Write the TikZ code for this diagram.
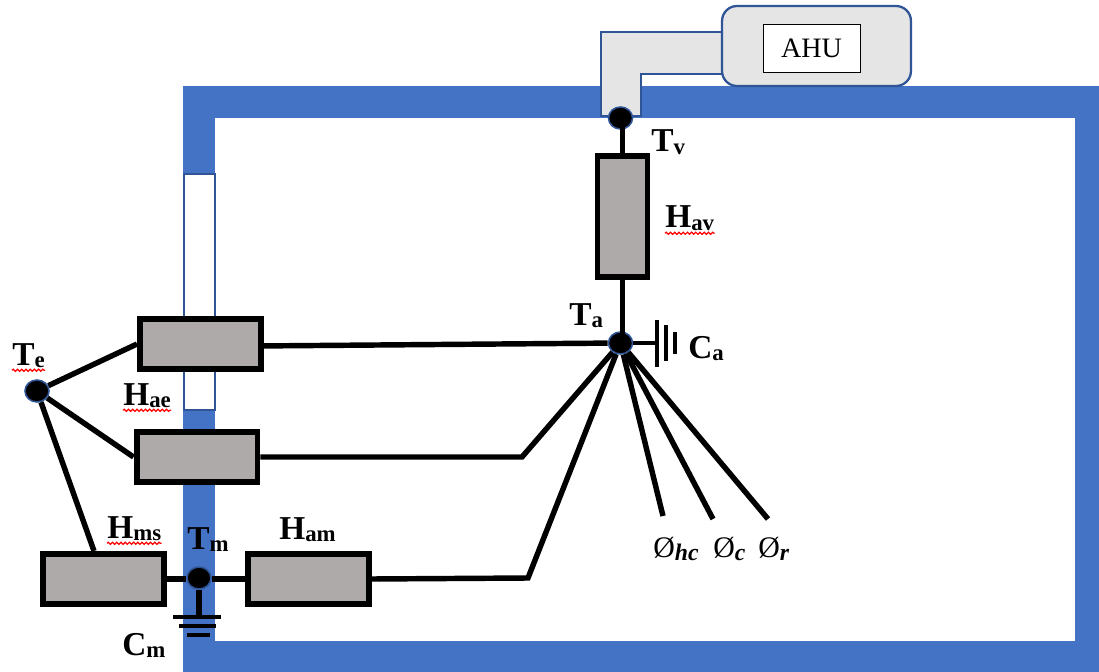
\documentclass[tikz,border=0pt]{standalone}
\usepackage{fontspec}
\setmainfont{Liberation Serif}
\usetikzlibrary{shapes.geometric,decorations.pathmorphing}

\definecolor{wallblue}{HTML}{4472C4}
\definecolor{edgeblue}{HTML}{2F5597}
\definecolor{ductgray}{HTML}{E5E5E5}
\definecolor{resgray}{HTML}{AEAAAA}

% Label with a bold letter and a smaller bold subscript
\newcommand{\lbl}[2]{{\bfseries\fontsize{19}{19}\selectfont #1\raisebox{-1.5pt}{\fontsize{13}{13}\selectfont #2}}}
% Label with the heat gain symbol
\newcommand{\gainlbl}[1]{{\fontsize{17}{17}\selectfont Ø\raisebox{-2pt}{\fontsize{13.5}{13.5}\selectfont\bfseries\itshape #1}}}

\tikzset{
    resistor/.style={draw=black, fill=resgray, line width=3.4pt, minimum width=2.42cm, minimum height=1cm, inner sep=0pt},
    junction/.style={ellipse, draw=edgeblue, fill=black, line width=0.9pt, minimum width=0.48cm, minimum height=0.44cm, inner sep=0pt},
    wire/.style={line width=3.1pt},
    plate/.style={line width=2.8pt},
    tag/.style={anchor=base west, inner sep=0pt},
    squiggle/.style={red, line width=0.7pt, decorate, decoration={snake, segment length=2.4pt, amplitude=0.6pt}}
}

\begin{document}
\begin{tikzpicture}[x=0.02cm, y=-0.02cm]

    \useasboundingbox (0,0) rectangle (1099,672);

    % Draw the wall of the room
    \fill[wallblue] (183,86) rectangle (1099,672);
    \fill[white] (215,118) rectangle (1075,641);

    % Draw the window in the wall
    \draw[edgeblue, fill=white, line width=1.6pt] (184,174) rectangle (215,410);

    % Draw the duct and the air handling unit
    \draw[edgeblue, fill=ductgray, line width=1.3pt] (601,116) -- (601,32) -- (723,32) -- (723,74) -- (641,74) -- (641,116) -- cycle;
    \node[draw=edgeblue, fill=ductgray, line width=1.3pt, rounded corners=0.3cm, minimum width=3.78cm, minimum height=1.6cm] (unit) at (816.5,46) {};
    \node[draw=black, fill=white, line width=0.5pt, minimum width=1.94cm, minimum height=0.96cm, inner sep=0pt, font=\fontsize{16}{16}\selectfont] (ahu) at (811.5,48) {AHU\hspace{6pt}};

    % Define the resistors
    \node[resistor] (Hae) at (200.5,344) {};
    \node[resistor] (Hae2) at (197,457) {};
    \node[resistor] (Hms) at (103.5,579) {};
    \node[resistor] (Ham) at (308.5,579) {};
    \node[resistor, minimum width=1cm, minimum height=2.42cm] (Hav) at (622.5,216.5) {};

    % Define the temperature points
    \node[junction] (Tv) at (620.5,118) {};
    \node[junction] (Ta) at (620.5,343) {};
    \node[junction] (Te) at (37,391) {};
    \node[junction] (Tm) at (199,578) {};

    % Define coordinates for the bends and the free ends
    \coordinate (HmsTop) at (94,551);
    \coordinate (B1) at (522,457);
    \coordinate (B2) at (528,578);
    \coordinate (Ohc) at (663,516);
    \coordinate (Oc) at (713,519);
    \coordinate (Or) at (768,519);
    \coordinate (CaPlate) at (657,343);
    \coordinate (CmPlate) at (199,617);

    % Draw the wires around the outside temperature
    \draw[wire] (Te) -- (Hae.west);
    \draw[wire] (Te) -- (Hae2.west);
    \draw[wire] (Te) -- (HmsTop);

    % Draw the wires to the air temperature
    \draw[wire] (Tv -| Hav.north) -- (Hav.north);
    \draw[wire] (Hav.south) -- (Ta -| Hav.south);
    \draw[wire] ([yshift=-1.1pt]Hae.east) -- (Ta);
    \draw[wire] (Hae2.east) -- (B1) -- (Ta);
    \draw[wire] (Ham.east) -- (B2) -- (Ta);

    % Draw the wires of the heat gains
    \draw[wire] (Ta) -- (Ohc);
    \draw[wire] (Ta) -- (Oc);
    \draw[wire] (Ta) -- (Or);

    % Draw the wires at the mass temperature
    \draw[wire] (Hms.east) -- (Tm.west |- Hms.east);
    \draw[wire] (Tm.east |- Ham.west) -- (Ham.west);
    \draw[wire] (Tm) -- (CmPlate);

    % Draw the capacitor of the air
    \draw[wire, line width=2.2pt] (Ta) -- (CaPlate);
    \draw[plate] (657,320) -- (657,367);
    \draw[plate] (666,325) -- (666,361);
    \draw[plate] (675,332) -- (675,354);

    % Draw the capacitor of the mass
    \draw[plate] (173,617) -- (221,617);
    \draw[plate] (179,626) -- (216,626);
    \draw[plate] (187,635) -- (210,635);

    % Add labels for the points
    \node[tag] (lblTe) at (12,365) {\lbl{T}{e}};
    \node[tag] (lblTv) at (651,152) {\lbl{T}{v}};
    \node[tag] (lblTa) at (569,325) {\lbl{T}{a}};
    \node[tag] (lblTm) at (187,549) {\lbl{T}{m}};
    \node[tag] (lblCa) at (688,358) {\lbl{C}{a}};
    \node[tag] (lblCm) at (122,655) {\lbl{C}{m}};
    \node[tag] (lblHav) at (665,228) {\lbl{H}{av}};
    \node[tag] (lblHae) at (123,405) {\lbl{H}{ae}};
    \node[tag] (lblHms) at (107,538) {\lbl{H}{ms}};
    \node[tag] (lblHam) at (279,539) {\lbl{H}{am}};
    \node[tag] (lblOhc) at (653,557) {\gainlbl{hc}};
    \node[tag] (lblOc) at (713,557) {\gainlbl{c}};
    \node[tag] (lblOr) at (758,557) {\gainlbl{r}};

    % Add the wavy underlines
    \draw[squiggle] ([yshift=-3pt]lblTe.base west) -- ([yshift=-3pt]lblTe.base east);
    \draw[squiggle] ([yshift=-3pt]lblHav.base west) -- ([yshift=-3pt]lblHav.base east);
    \draw[squiggle] ([yshift=-3pt]lblHae.base west) -- ([yshift=-3pt]lblHae.base east);
    \draw[squiggle] ([yshift=-3pt]lblHms.base west) -- ([yshift=-3pt]lblHms.base east);

\end{tikzpicture}
\end{document}
